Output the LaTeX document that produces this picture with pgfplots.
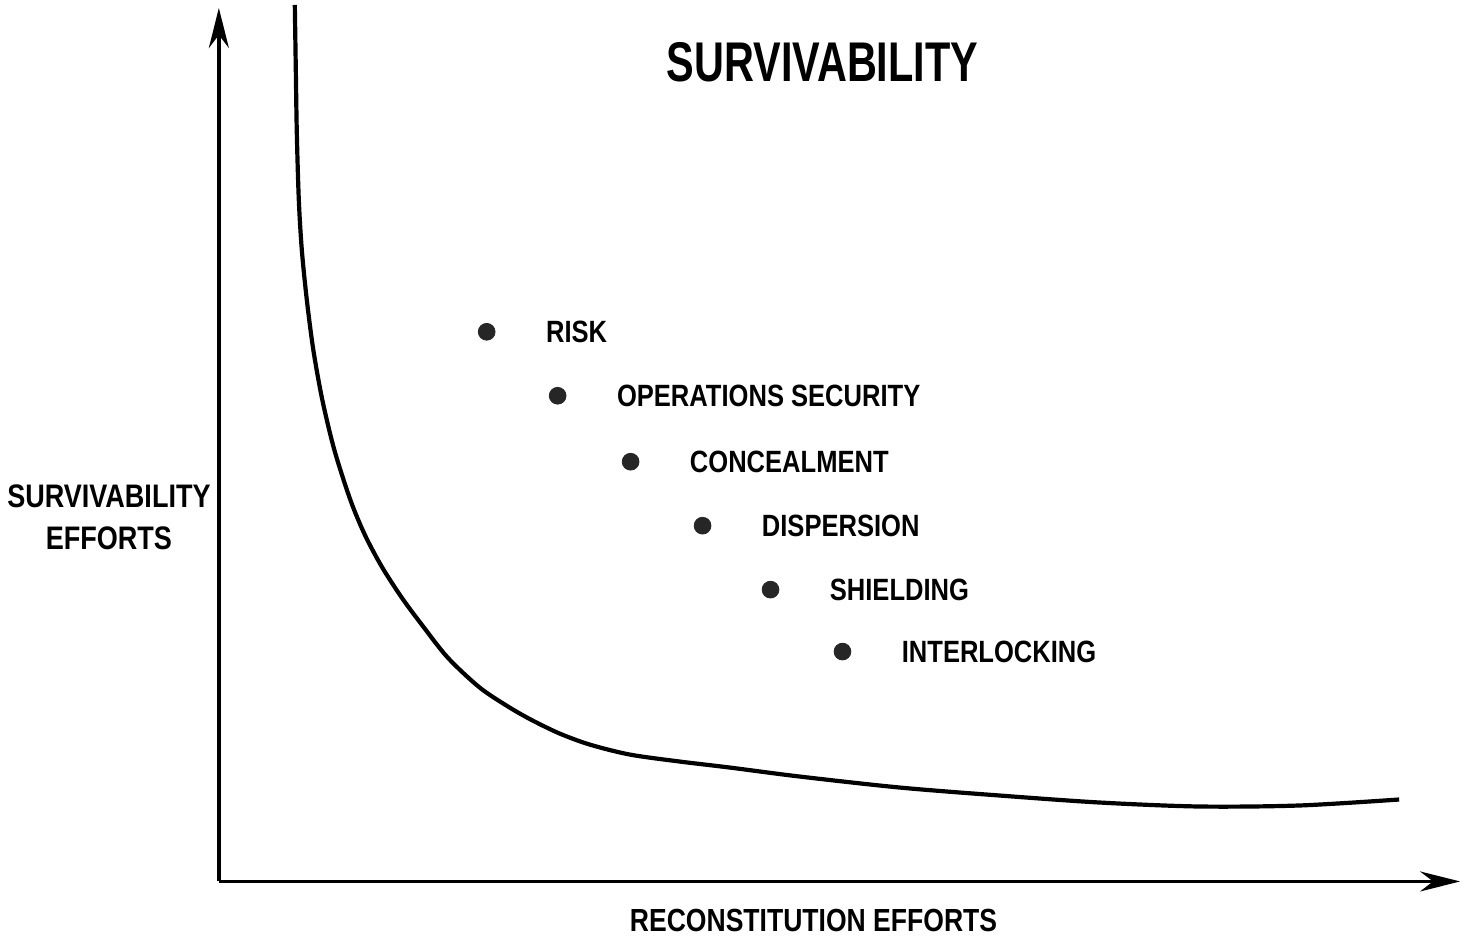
\documentclass[border=0pt]{standalone}
\usepackage{fontspec}
\usepackage{pgfplots}
\pgfplotsset{compat=1.18}
\usetikzlibrary{arrows.meta}
\setmainfont{Liberation Sans}
\newfontfamily\labelfont{Liberation Sans}[FakeStretch=0.83]
\newfontfamily\titlefont{Liberation Sans}[FakeStretch=0.74]

\begin{document}
\begin{tikzpicture}
% coordinates are pixels of the 1462x942 reference, y measured upward
\begin{axis}[
    scale only axis,
    width=621pt, height=437pt,
    xmin=219, xmax=1461,
    ymin=60, ymax=934,
    axis lines=left,
    axis line style={line width=1.9pt, -{Stealth[length=20pt,width=10pt]}},
    xtick=\empty, ytick=\empty,
    clip=false,
]
\path (axis cs:0,0) rectangle (axis cs:1462,942);

% curve
\addplot[line width=2.1pt, smooth] coordinates {
    (295,937)(296,872)(297,809)(299,742)(302,692)(307,642)(313.5,592)
    (322.5,542)(334.5,492)(350.5,442)(365,407)(382,375)(402,344)(422,317)
    (448,284)(480,254)(510,234)(533,221)(560,208)(590,197)(630,187)
    (680,180)(730,174)(800,165)(900,154)(1000,146)(1100,139)(1200,135)
    (1300,136)(1400,142)};

% measures
\addplot[only marks, mark=*, mark size=4.2pt, mark options={fill=black!85, draw=black!85},
    point meta=explicit symbolic,
    nodes near coords,
    every node near coord/.append style={anchor=west, inner sep=0pt, xshift=29.5pt,
        font=\labelfont\bfseries\fontsize{15.4}{16}\selectfont}]
    table[meta=label, col sep=comma] {
x,y,label
487,610,RISK
558,546,OPERATIONS SECURITY
631,480,CONCEALMENT
703,416,DISPERSION
771,352,SHIELDING
843,290,INTERLOCKING
};

\node[font=\titlefont\bfseries\fontsize{28}{30}\selectfont, inner sep=0pt]
    at (axis cs:823,880) {SURVIVABILITY};
\node[font=\labelfont\bfseries\fontsize{16.3}{21}\selectfont, align=center, inner sep=0pt]
    at (axis cs:109,424) {SURVIVABILITY\\EFFORTS};
\node[font=\labelfont\bfseries\fontsize{16}{18}\selectfont, inner sep=0pt]
    at (axis cs:814,21) {RECONSTITUTION EFFORTS};
\end{axis}
\end{tikzpicture}
\end{document}
